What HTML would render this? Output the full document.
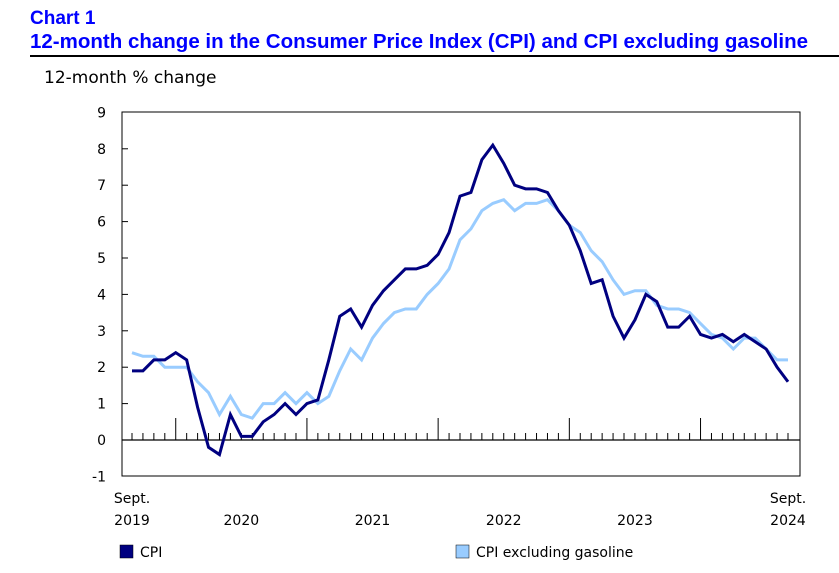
<!DOCTYPE html>
<html><head><meta charset="utf-8"><style>
body{margin:0;background:#fff;width:839px;height:569px;overflow:hidden;font-family:"DejaVu Sans","Liberation Sans",sans-serif;}
</style></head><body>
<svg width="839" height="569" xmlns="http://www.w3.org/2000/svg" font-family="DejaVu Sans, Liberation Sans, sans-serif">
<text x="30" y="24" font-size="19" font-weight="bold" fill="#0000ff" font-family="Liberation Sans, sans-serif">Chart 1</text>
<text x="30" y="48" font-size="20.5" font-weight="bold" fill="#0000ff" font-family="Liberation Sans, sans-serif">12-month change in the Consumer Price Index (CPI) and CPI excluding gasoline</text>
<line x1="30" y1="56" x2="839" y2="56" stroke="#000" stroke-width="2"/>
<text x="44" y="83" font-size="17" fill="#000">12-month % change</text>
<rect x="122" y="112" width="678" height="364" fill="none" stroke="#000" stroke-width="1"/>
<g id="axes"></g>
<g id="series"></g>
<g>
<rect x="120" y="545" width="13" height="13" fill="#000080" stroke="#000" stroke-width="0.5"/>
<text x="140" y="557" font-size="14">CPI</text>
<rect x="456" y="545" width="13" height="13" fill="#99ccff" stroke="#000" stroke-width="0.5"/>
<text x="476" y="557" font-size="14">CPI excluding gasoline</text>
</g>
</svg>
<script>
const cpi=[1.9,1.9,2.2,2.2,2.4,2.2,0.9,-0.2,-0.4,0.7,0.1,0.1,0.5,0.7,1.0,0.7,1.0,1.1,2.2,3.4,3.6,3.1,3.7,4.1,4.4,4.7,4.7,4.8,5.1,5.7,6.7,6.8,7.7,8.1,7.6,7.0,6.9,6.9,6.8,6.3,5.9,5.2,4.3,4.4,3.4,2.8,3.3,4.0,3.8,3.1,3.1,3.4,2.9,2.8,2.9,2.7,2.9,2.7,2.5,2.0,1.6];
const exGas=[2.4,2.3,2.3,2.0,2.0,2.0,1.6,1.3,0.7,1.2,0.7,0.6,1.0,1.0,1.3,1.0,1.3,1.0,1.2,1.9,2.5,2.2,2.8,3.2,3.5,3.6,3.6,4.0,4.3,4.7,5.5,5.8,6.3,6.5,6.6,6.3,6.5,6.5,6.6,6.3,5.9,5.7,5.2,4.9,4.4,4.0,4.1,4.1,3.7,3.6,3.6,3.5,3.2,2.9,2.8,2.5,2.8,2.8,2.5,2.2,2.2];
const yTicks=[-1,0,1,2,3,4,5,6,7,8,9];
const years=["2020","2021","2022","2023"];
const NS="http://www.w3.org/2000/svg";
const x=i=>132+i*(656/60);
const y=v=>440-v*(364/10);
function mk(t,a,p){const e=document.createElementNS(NS,t);for(const k in a)e.setAttribute(k,a[k]);p.appendChild(e);return e;}
const ax=document.getElementById('axes');
yTicks.forEach(v=>{
 const t=mk('text',{x:106,y:y(v)+5,'text-anchor':'end','font-size':14},ax);t.textContent=v;
 
 
 if(v>-1&&v<9){mk('line',{x1:122,x2:128,y1:y(v),y2:y(v),stroke:'#000'},ax);}
});
mk('line',{x1:122,x2:800,y1:y(0),y2:y(0),stroke:'#000','stroke-width':1.2},ax);
for(let i=0;i<61;i++){
 const jan=(i+8)%12===0;
 mk('line',{x1:x(i),x2:x(i),y1:y(0),y2:y(0)-(jan?22:7),stroke:'#000'},ax);
}
years.forEach((yr,k)=>{
 const t=mk('text',{x:x(10+12*k),y:525,'text-anchor':'middle','font-size':14},ax);t.textContent=yr;
 
 
});
[[0,"Sept.","2019"],[60,"Sept.","2024"]].forEach(([i,a,b])=>{
 const t1=mk('text',{x:x(i),y:503,'text-anchor':'middle','font-size':14},ax);t1.textContent=a;
 
 
 const t2=mk('text',{x:x(i),y:525,'text-anchor':'middle','font-size':14},ax);t2.textContent=b;
 
 
});
const sg=document.getElementById('series');
function line(d,c,name){
 const p=mk('polyline',{points:d.map((v,i)=>x(i)+','+y(v)).join(' '),fill:'none',stroke:c,'stroke-width':3,'stroke-linejoin':'miter'},sg);
 
 
}
line(exGas,'#99ccff','cpi-ex-gasoline-line');
line(cpi,'#000080','cpi-line');
</script>
</body></html>
